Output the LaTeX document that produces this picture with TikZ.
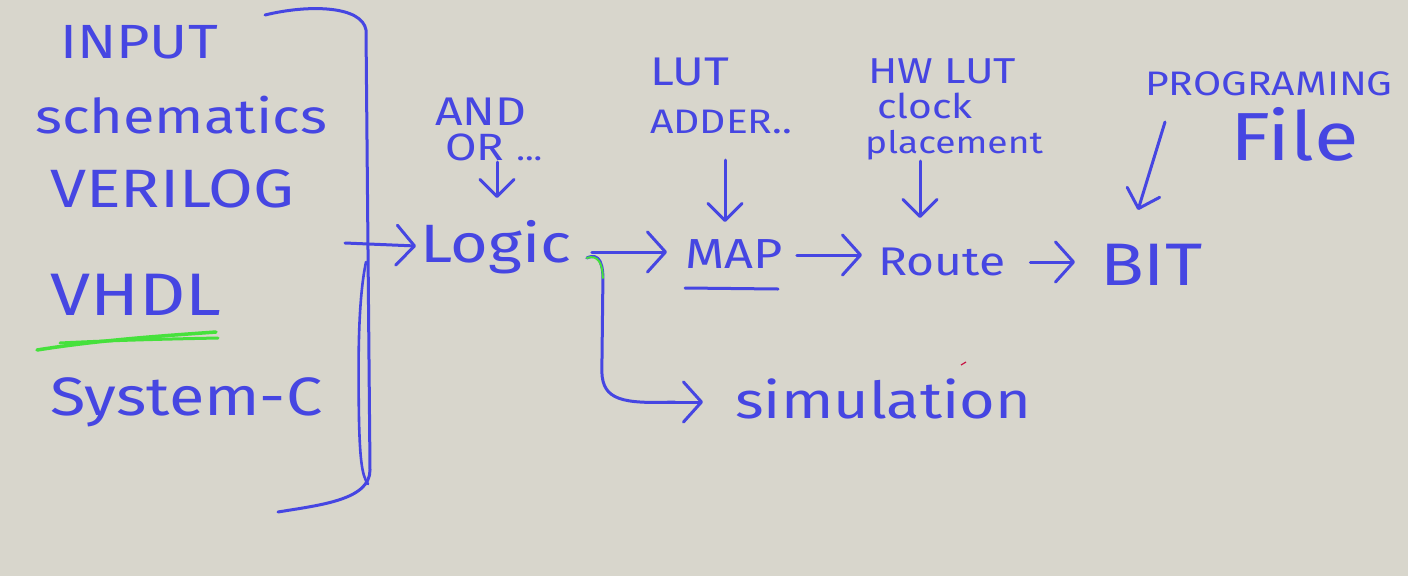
\documentclass[tikz,border=0pt]{standalone}
\usepackage{fontspec}
\newfontfamily\handfont[FakeStretch=1.2]{Fira Sans}
\usetikzlibrary{arrows.meta,calc}
\definecolor{bg}{RGB}{216,214,204}
\definecolor{pen}{RGB}{70,70,226}
\definecolor{hl}{RGB}{70,225,60}
\newcommand\fsz[1]{\fontsize{#1}{#1}\selectfont}
\tikzset{
  hw/.style={text=pen, inner sep=0pt, anchor=base west, font=\handfont},
  stroke/.style={draw=pen, line width=3pt, line cap=round, line join=round},
  harrow/.style={stroke, -{Straight Barb[length=18pt, width=40pt, line width=3pt, round]}},
  varrow/.style={stroke, -{Straight Barb[length=17pt, width=34pt, line width=3pt, round]}}
}
\begin{document}
\begin{tikzpicture}[x=1pt, y=-1pt]
\fill[bg] (0,0) rectangle (1408,576);
\useasboundingbox (0,0) rectangle (1408,576);

% inputs
\node[hw] (input) at (60,58) {\fsz{48}INPUT};
\node[hw] (schem) at (35,133) {\fsz{48}schematics};
\node[hw] (veri) at (50,207) {\fsz{54}VERILOG};
\node[hw] (vhdl) at (50,315) {\fsz{60}VHDL};
\node[hw] (sysc) at (50,415) {\fsz{54}System-C};

% green highlight under VHDL
\draw[draw=hl, line width=3.5pt, line cap=round] (37,350) .. controls (100,340) and (160,336) .. (216,332);
\draw[draw=hl, line width=3pt, line cap=round] (60,343) .. controls (120,340) and (170,339) .. (218,338);

% brace
\draw[stroke] (265,15) .. controls (310,4) and (362,6) .. (366,30) -- (368,250) -- (370,470) .. controls (370,500) and (320,505) .. (278,512);
\draw[stroke, line width=2.6pt] (366,262) .. controls (358,300) and (358,360) .. (359,420) .. controls (360,460) and (362,476) .. (368,484);
\coordinate (bracetip) at (345,243);

% logic
\node[hw] (logic) at (420,262) {\fsz{54}Logic};
\node[hw] (and) at (435,125) {\fsz{40}AND};
\node[hw] (or) at (445,160) {\fsz{38}OR \fsz{30}...};
\draw[harrow] (bracetip) -- ($(logic.base west)+(-4,-16)$);
\draw[varrow] ($(or.base west)+(52,2)$) -- ($(or.base west)+(52,38)$);

% map
\node[hw] (map) at (685,268) {\fsz{42}MAP};
\node[hw] (lut) at (650,85) {\fsz{40}LUT};
\node[hw] (adder) at (650,133) {\fsz{34}ADDER..};
\draw[stroke] ($(map.base west)+(0,20)$) -- ($(map.base west)+(93,21)$);
\draw[varrow] ($(adder.base west)+(75,27)$) -- ($(map.base west)+(40,-46)$);
\draw[harrow] ($(logic.base east)+(20,-10)$) -- ($(map.base west)+(-18,-16)$);

% route
\node[hw] (route) at (878,275) {\fsz{40}Route};
\node[hw] (hwlut) at (868,83) {\fsz{36}HW LUT};
\node[hw] (clock) at (877,118) {\fsz{34}clock};
\node[hw] (place) at (865,153) {\fsz{31}placement};
\draw[varrow] ($(place.base west)+(55,8)$) -- ($(route.base west)+(42,-57)$);
\draw[harrow] ($(map.base east)+(14,-13)$) -- ($(route.base west)+(-16,-20)$);

% bit
\node[hw] (bit) at (1100,285) {\fsz{60}BIT};
\node[hw] (prog) at (1145,95) {\fsz{34}PROGRAMING};
\node[hw] (file) at (1230,160) {\fsz{68}File};
\draw[varrow] ($(prog.base west)+(20,27)$) -- ($(bit.base west)+(38,-75)$);
\draw[harrow] ($(route.base east)+(25,-13)$) -- ($(bit.base west)+(-25,-23)$);

% simulation
\node[hw] (sim) at (735,418) {\fsz{51}simulation};
\draw[stroke] ($(logic.base east)+(15,-4)$) .. controls ($(logic.base east)+(28,-10)$) and ($(logic.base east)+(32,2)$) .. ($(logic.base east)+(31,24)$)
  -- ($(logic.base east)+(30,110)$) .. controls ($(logic.base east)+(31,138)$) and ($(logic.base east)+(50,142)$) .. ($(sim.base west)+(-60,-16)$);
\draw[harrow] ($(sim.base west)+(-75,-16)$) -- ($(sim.base west)+(-32,-16)$);
\draw[draw=hl, line width=2pt, line cap=round] ($(logic.base east)+(15,-4)$) .. controls ($(logic.base east)+(26,-8)$) and ($(logic.base east)+(31,2)$) .. ($(logic.base east)+(31,16)$);

% stray red mark
\draw[draw=red!70!pen, line width=1.2pt] (961,365) -- (966,362);
\end{tikzpicture}
\end{document}
